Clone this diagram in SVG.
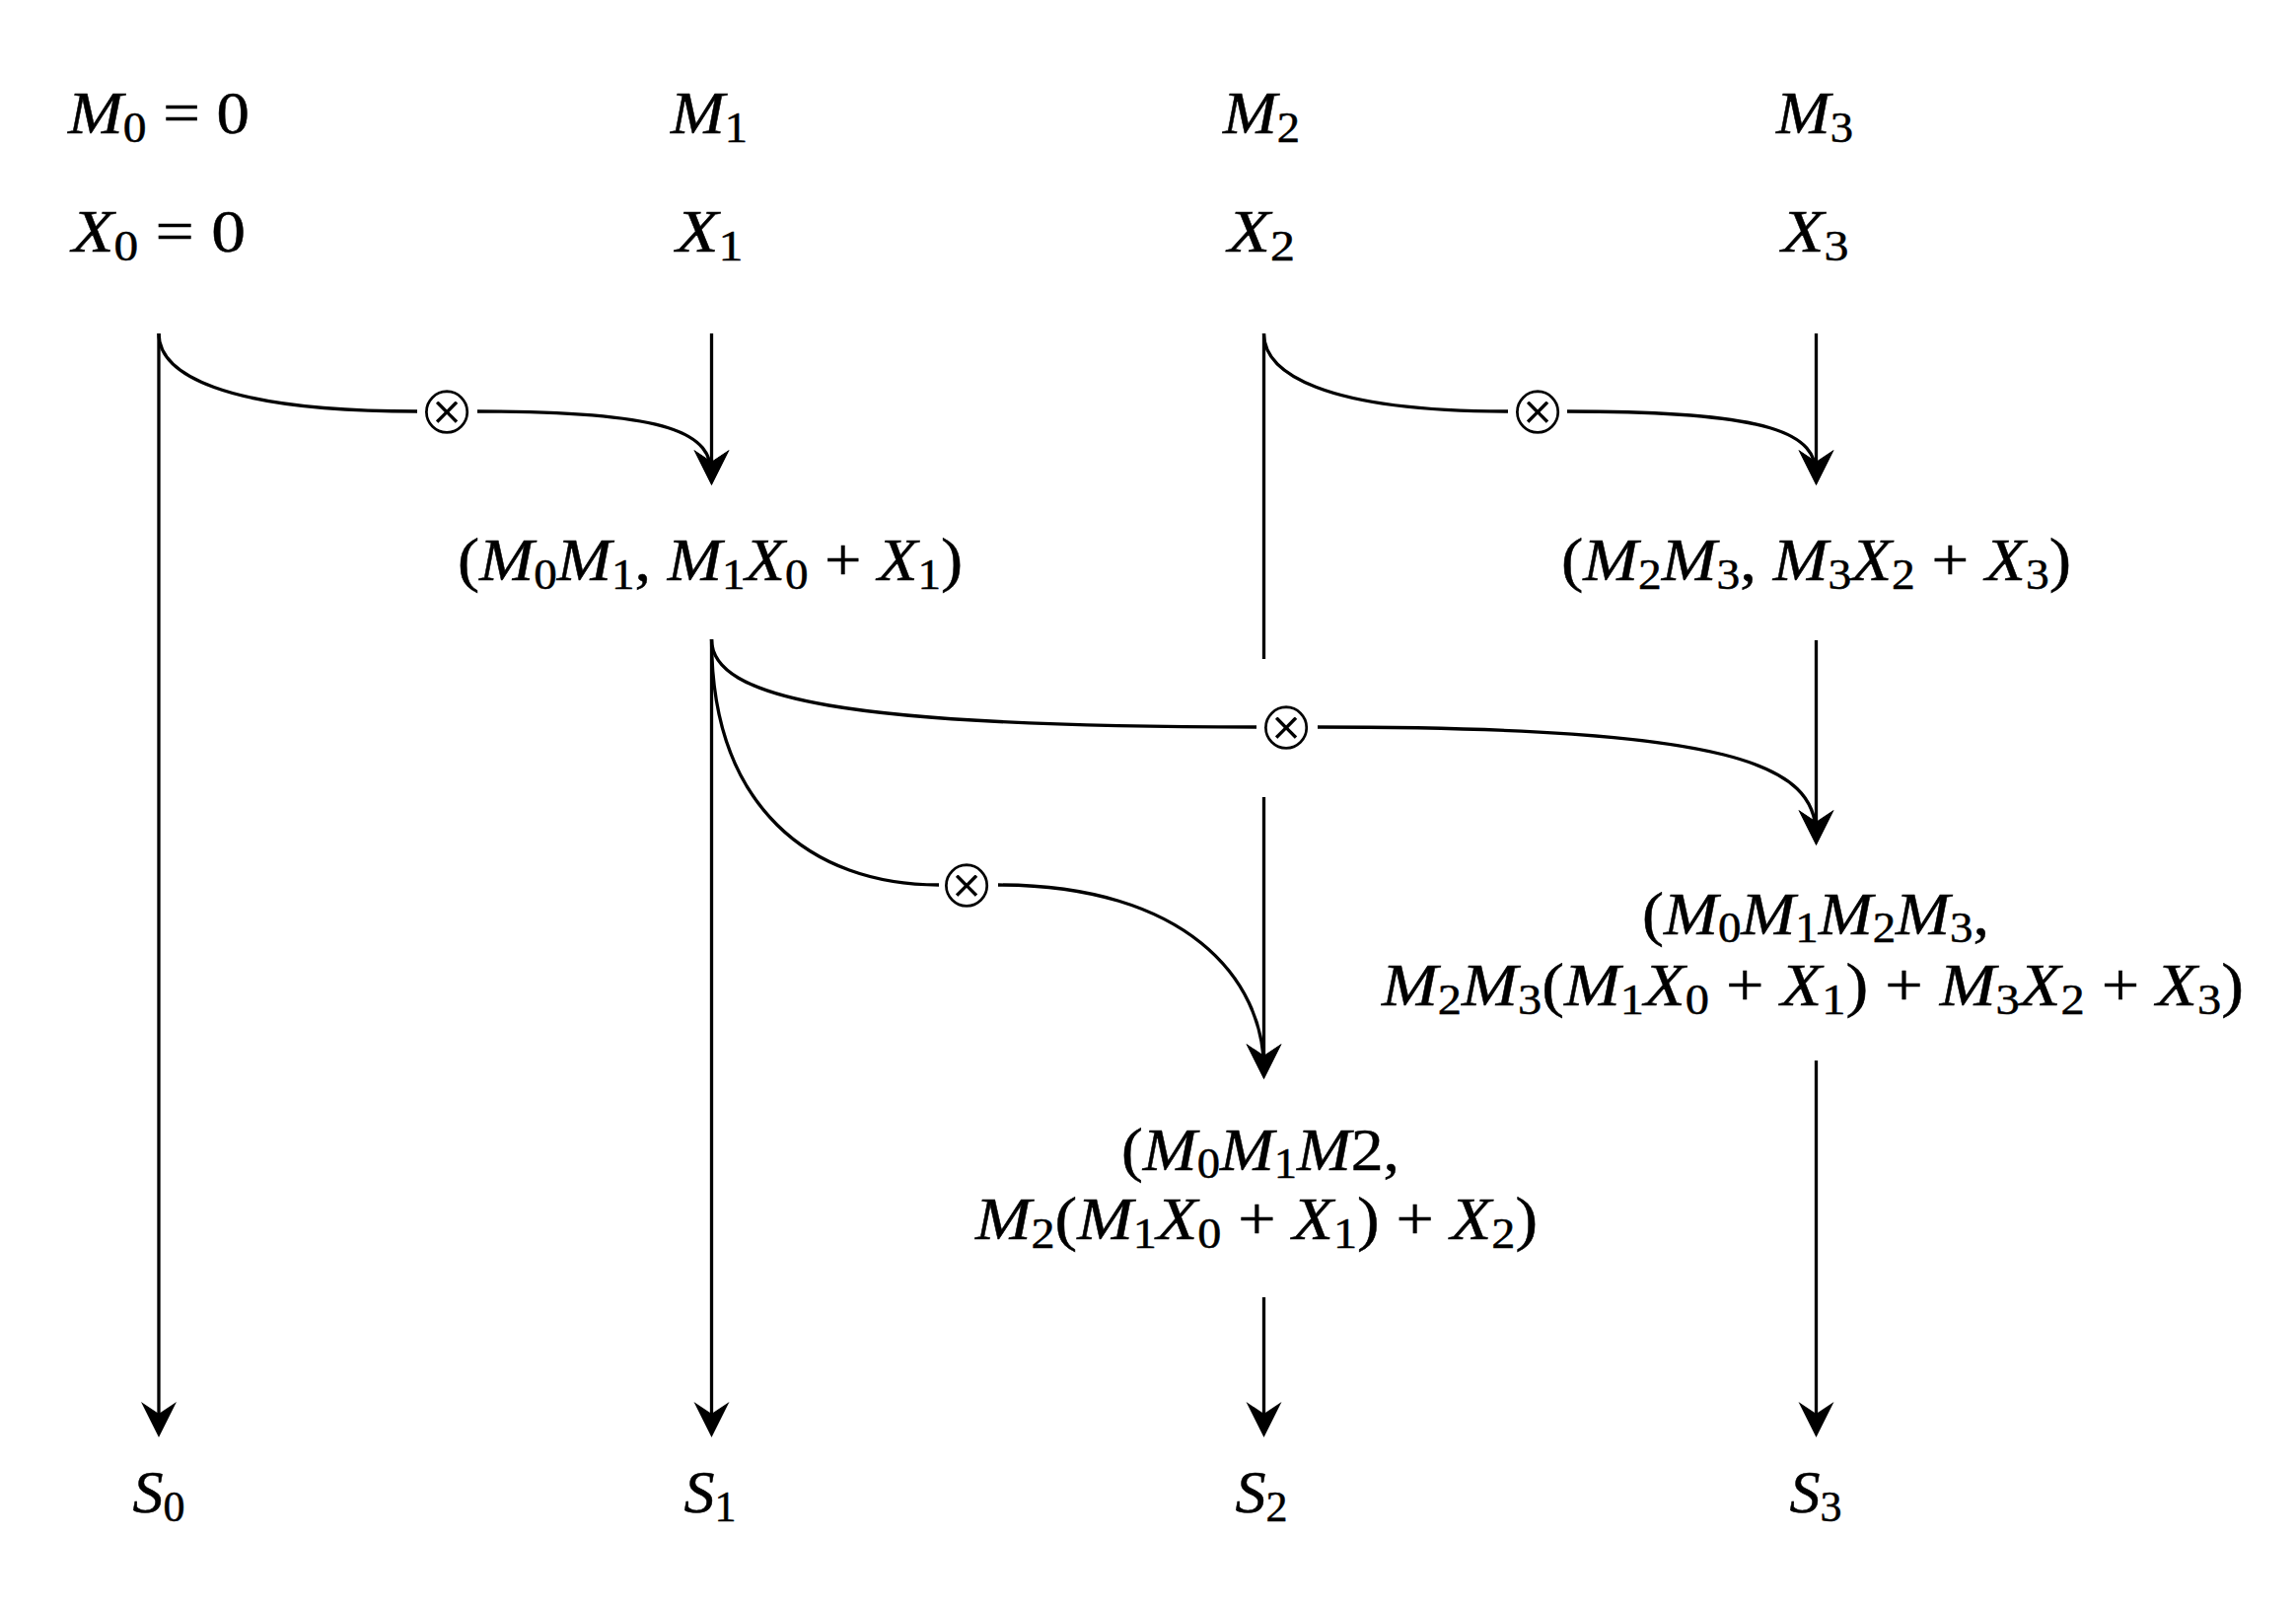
<svg xmlns="http://www.w3.org/2000/svg" width="2328" height="1632" viewBox="0 0 2328 1632">
<style>
.t{font-family:"Liberation Serif","Times New Roman",serif;font-size:62px;fill:#000;stroke:#000;stroke-width:0.5}
.i{font-style:italic}
.s{font-size:44px;font-style:normal}
.o{font-family:"DejaVu Sans",sans-serif;font-size:71px;fill:#000;stroke:#fff;stroke-width:2.4}
.ln{fill:none;stroke:#000;stroke-width:3.3}
.ar{marker-end:url(#ah)}
</style>
<defs>
<marker id="ah" markerUnits="userSpaceOnUse" viewBox="-38 -20 40 40" refX="-10" refY="0" markerWidth="40" markerHeight="40" orient="auto">
<path d="M0,0 L-36,-18 L-24,0 L-36,18 Z" fill="#000"/>
</marker>
</defs>
<rect width="2328" height="1632" fill="#fff"/>

<g id="connectors">
<path class="ln ar" d="M161,338 V1447"/>
<path class="ln ar" d="M721.5,338 V482"/>
<path class="ln ar" d="M721.5,648 V1447"/>
<path class="ln" d="M1281.5,338 V668"/>
<path class="ln ar" d="M1281.5,808 V1084"/>
<path class="ln ar" d="M1281.5,1315 V1447"/>
<path class="ln ar" d="M1841.5,338 V482"/>
<path class="ln ar" d="M1841.5,649 V847"/>
<path class="ln ar" d="M1841.5,1075 V1447"/>
<path class="ln" d="M161,338 C161,378 223,417 423,417"/>
<path class="ln ar" d="M484,417 C684,417 721.5,440 721.5,482"/>
<path class="ln" d="M1281.5,338 C1281.5,378 1341,417 1529,417"/>
<path class="ln ar" d="M1589,417 C1801,417 1841.5,440 1841.5,482"/>
<path class="ln" d="M721.5,648 C721.5,708 854,737 1274,737"/>
<path class="ln ar" d="M1336,737 C1760,737 1841.5,775 1841.5,847"/>
<path class="ln" d="M721.5,648 C721.5,818 822,897 952,897"/>
<path class="ln ar" d="M1012,897 C1202,897 1281.5,992 1281.5,1084"/>
</g>

<g id="op1"><text class="o" x="453" y="440" text-anchor="middle">⊗</text></g>
<g id="op2"><text class="o" x="1559" y="440" text-anchor="middle">⊗</text></g>
<g id="op3"><text class="o" x="1304" y="760" text-anchor="middle">⊗</text></g>
<g id="op4"><text class="o" x="980" y="920" text-anchor="middle">⊗</text></g>

<g id="m0"><text class="t" x="161" y="135" text-anchor="middle" textLength="184" lengthAdjust="spacingAndGlyphs"><tspan class="i">M</tspan><tspan class="s" dy="9">0</tspan><tspan dy="-9"> = 0</tspan></text></g>
<g id="x0"><text class="t" x="161" y="255" text-anchor="middle" textLength="176" lengthAdjust="spacingAndGlyphs"><tspan class="i">X</tspan><tspan class="s" dy="9">0</tspan><tspan dy="-9"> = 0</tspan></text></g>
<g id="m1"><text class="t" x="719" y="135" text-anchor="middle" textLength="78" lengthAdjust="spacingAndGlyphs"><tspan class="i">M</tspan><tspan class="s" dy="9">1</tspan></text></g>
<g id="x1"><text class="t" x="719.5" y="255" text-anchor="middle" textLength="68" lengthAdjust="spacingAndGlyphs"><tspan class="i">X</tspan><tspan class="s" dy="9">1</tspan></text></g>
<g id="m2"><text class="t" x="1279" y="135" text-anchor="middle" textLength="78" lengthAdjust="spacingAndGlyphs"><tspan class="i">M</tspan><tspan class="s" dy="9">2</tspan></text></g>
<g id="x2"><text class="t" x="1279" y="255" text-anchor="middle" textLength="68" lengthAdjust="spacingAndGlyphs"><tspan class="i">X</tspan><tspan class="s" dy="9">2</tspan></text></g>
<g id="m3"><text class="t" x="1840" y="135" text-anchor="middle" textLength="78" lengthAdjust="spacingAndGlyphs"><tspan class="i">M</tspan><tspan class="s" dy="9">3</tspan></text></g>
<g id="x3"><text class="t" x="1840.5" y="255" text-anchor="middle" textLength="68" lengthAdjust="spacingAndGlyphs"><tspan class="i">X</tspan><tspan class="s" dy="9">3</tspan></text></g>

<g id="p01"><text class="t" x="720" y="588" text-anchor="middle" textLength="512" lengthAdjust="spacingAndGlyphs">(<tspan class="i">M</tspan><tspan class="s" dy="9">0</tspan><tspan class="i" dy="-9">M</tspan><tspan class="s" dy="9">1</tspan><tspan dy="-9">, </tspan><tspan class="i">M</tspan><tspan class="s" dy="9">1</tspan><tspan class="i" dy="-9">X</tspan><tspan class="s" dy="9">0</tspan><tspan dy="-9"> + </tspan><tspan class="i">X</tspan><tspan class="s" dy="9">1</tspan><tspan dy="-9">)</tspan></text></g>

<g id="p23"><text class="t" x="1841.5" y="588" text-anchor="middle" textLength="517" lengthAdjust="spacingAndGlyphs">(<tspan class="i">M</tspan><tspan class="s" dy="9">2</tspan><tspan class="i" dy="-9">M</tspan><tspan class="s" dy="9">3</tspan><tspan dy="-9">, </tspan><tspan class="i">M</tspan><tspan class="s" dy="9">3</tspan><tspan class="i" dy="-9">X</tspan><tspan class="s" dy="9">2</tspan><tspan dy="-9"> + </tspan><tspan class="i">X</tspan><tspan class="s" dy="9">3</tspan><tspan dy="-9">)</tspan></text></g>

<g id="p0123">
<text class="t" x="1841" y="947" text-anchor="middle" textLength="352" lengthAdjust="spacingAndGlyphs">(<tspan class="i">M</tspan><tspan class="s" dy="8">0</tspan><tspan class="i" dy="-8">M</tspan><tspan class="s" dy="8">1</tspan><tspan class="i" dy="-8">M</tspan><tspan class="s" dy="8">2</tspan><tspan class="i" dy="-8">M</tspan><tspan class="s" dy="8">3</tspan><tspan dy="-8">,</tspan></text>
<text class="t" x="1838" y="1019" text-anchor="middle" textLength="874" lengthAdjust="spacingAndGlyphs"><tspan class="i">M</tspan><tspan class="s" dy="9">2</tspan><tspan class="i" dy="-9">M</tspan><tspan class="s" dy="9">3</tspan><tspan dy="-9">(</tspan><tspan class="i">M</tspan><tspan class="s" dy="9">1</tspan><tspan class="i" dy="-9">X</tspan><tspan class="s" dy="9">0</tspan><tspan dy="-9"> + </tspan><tspan class="i">X</tspan><tspan class="s" dy="9">1</tspan><tspan dy="-9">) + </tspan><tspan class="i">M</tspan><tspan class="s" dy="9">3</tspan><tspan class="i" dy="-9">X</tspan><tspan class="s" dy="9">2</tspan><tspan dy="-9"> + </tspan><tspan class="i">X</tspan><tspan class="s" dy="9">3</tspan><tspan dy="-9">)</tspan></text>
</g>

<g id="p012">
<text class="t" x="1278" y="1186" text-anchor="middle" textLength="282" lengthAdjust="spacingAndGlyphs">(<tspan class="i">M</tspan><tspan class="s" dy="8">0</tspan><tspan class="i" dy="-8">M</tspan><tspan class="s" dy="8">1</tspan><tspan class="i" dy="-8">M</tspan><tspan>2,</tspan></text>
<text class="t" x="1274" y="1256" text-anchor="middle" textLength="570" lengthAdjust="spacingAndGlyphs"><tspan class="i">M</tspan><tspan class="s" dy="9">2</tspan><tspan dy="-9">(</tspan><tspan class="i">M</tspan><tspan class="s" dy="9">1</tspan><tspan class="i" dy="-9">X</tspan><tspan class="s" dy="9">0</tspan><tspan dy="-9"> + </tspan><tspan class="i">X</tspan><tspan class="s" dy="9">1</tspan><tspan dy="-9">) + </tspan><tspan class="i">X</tspan><tspan class="s" dy="9">2</tspan><tspan dy="-9">)</tspan></text>
</g>

<g id="s0"><text class="t" x="161" y="1533" text-anchor="middle"><tspan class="i">S</tspan><tspan class="s" dy="9">0</tspan></text></g>
<g id="s1"><text class="t" x="720" y="1533" text-anchor="middle"><tspan class="i">S</tspan><tspan class="s" dy="9">1</tspan></text></g>
<g id="s2"><text class="t" x="1279" y="1533" text-anchor="middle"><tspan class="i">S</tspan><tspan class="s" dy="9">2</tspan></text></g>
<g id="s3"><text class="t" x="1841" y="1533" text-anchor="middle"><tspan class="i">S</tspan><tspan class="s" dy="9">3</tspan></text></g>
</svg>
